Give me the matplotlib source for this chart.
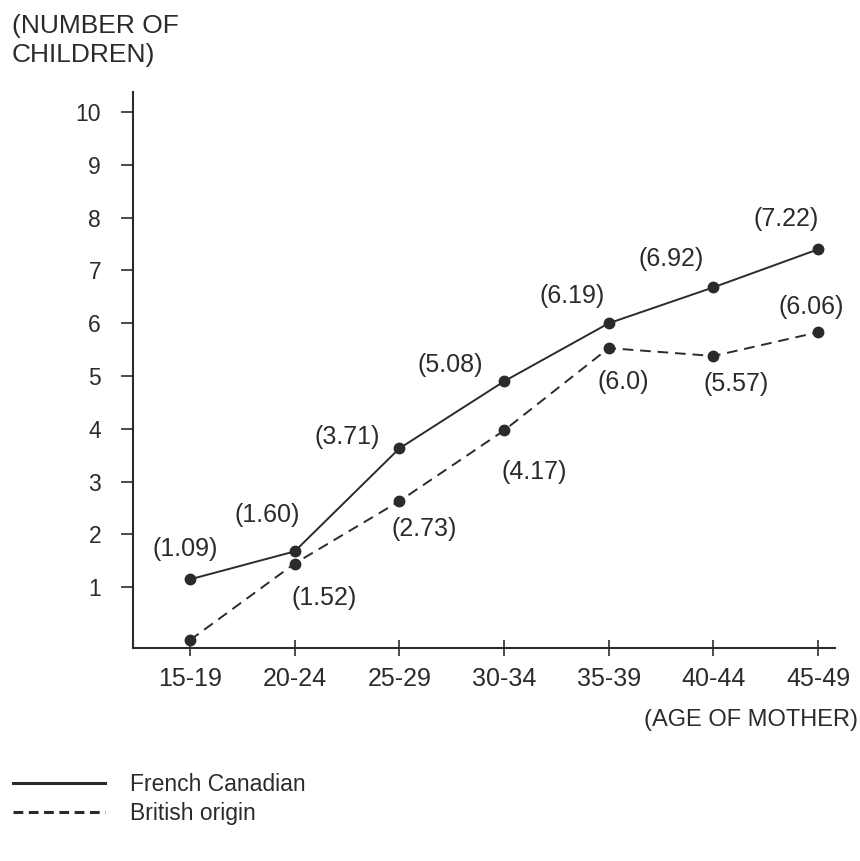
import matplotlib
matplotlib.use("Agg")
import matplotlib.pyplot as plt
from matplotlib.lines import Line2D

# ---- data ----
age_groups = ["15-19", "20-24", "25-29", "30-34", "35-39", "40-44", "45-49"]
french_values = [1.15, 1.68, 3.63, 4.90, 6.00, 6.68, 7.40]
british_values = [0.0, 1.45, 2.63, 3.97, 5.53, 5.38, 5.83]
french_labels = ["(1.09)", "(1.60)", "(3.71)", "(5.08)", "(6.19)", "(6.92)", "(7.22)"]
british_labels = [None, "(1.52)", "(2.73)", "(4.17)", "(6.0)", "(5.57)", "(6.06)"]
y_ticks = [1, 2, 3, 4, 5, 6, 7, 8, 9, 10]

# ---- layout (pixel offsets of the value labels) ----
french_offsets = [(-5, 30), (-28, 36), (-52, 11), (-54, 16), (-37, 27), (-42, 28), (-32, 30)]
british_offsets = [None, (29, -34), (25, -28), (30, -42), (15, -34), (23, -28), (-7, 25)]

plt.rcParams['font.family'] = ['Liberation Sans', 'DejaVu Sans']
ink = "#2b2b2b"
fs_val = 18
fs_xt = 18
fs_yt = 16.5

fig = plt.figure(figsize=(8.6, 8.61), dpi=100)
fig.patch.set_facecolor("white")
ax = fig.add_axes([133 / 860, (861 - 648) / 861, (835 - 133) / 860, (648 - 92) / 861])

x = list(range(len(age_groups)))
ax.plot(x, french_values, color=ink, lw=1.4, marker="o", ms=7.5,
        mfc=ink, mec=ink, clip_on=False, zorder=3)
ax.plot(x, british_values, color=ink, lw=1.4, ls=(0, (5.5, 3.5)), marker="o", ms=7.5,
        mfc=ink, mec=ink, clip_on=False, zorder=3)

for xi, v, lab, off in zip(x, french_values, french_labels, french_offsets):
    if lab:
        ax.annotate(lab, (xi, v), xytext=off, textcoords="offset pixels",
                    ha="center", va="center", fontsize=fs_val, color=ink)
for xi, v, lab, off in zip(x, british_values, british_labels, british_offsets):
    if lab:
        ax.annotate(lab, (xi, v), xytext=off, textcoords="offset pixels",
                    ha="center", va="center", fontsize=fs_val, color=ink)

ax.set_xlim(-0.545, 6.162)
ax.set_ylim(-0.15, 10.38)
ax.set_xticks(x)
ax.set_xticklabels(age_groups, fontsize=fs_xt, color=ink)
ax.set_yticks(y_ticks)
ax.set_yticklabels([str(t) for t in y_ticks], fontsize=fs_yt, color=ink)

for s in ["top", "right"]:
    ax.spines[s].set_visible(False)
for s in ["left", "bottom"]:
    ax.spines[s].set_linewidth(1.5)
    ax.spines[s].set_color(ink)

ax.tick_params(axis="y", direction="out", length=9, width=1.2, pad=14, colors=ink)
ax.tick_params(axis="x", direction="inout", length=11, width=1.2, pad=8, colors=ink)

fig.text(12 / 860, 1 - 14 / 861, "(NUMBER OF\nCHILDREN)", ha="left", va="top",
         fontsize=19, color=ink, linespacing=1.28)
fig.text(858 / 860, 1 - 720 / 861, "(AGE OF MOTHER)", ha="right", va="center",
         fontsize=17, color=ink)

handles = [Line2D([], [], color=ink, lw=2.2),
           Line2D([], [], color=ink, lw=2.2, ls=(0, (3.2, 1.8)))]
fig.legend(handles, ["French Canadian", "British origin"],
           loc="upper left", bbox_to_anchor=(13 / 860, 1 - 773 / 861),
           frameon=False, fontsize=16.5, handlelength=4.0, handletextpad=1.1,
           labelspacing=0.25, borderpad=0, borderaxespad=0, labelcolor=ink)

fig.savefig("out.png", dpi=100, facecolor="white")
